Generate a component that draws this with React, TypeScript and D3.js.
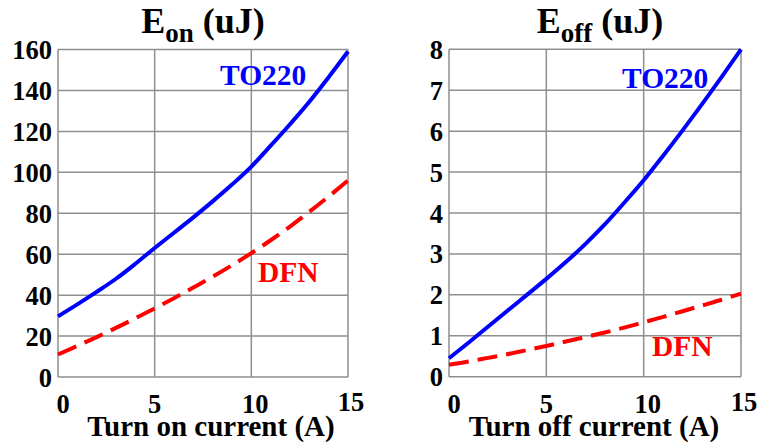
import React from "react";
import * as d3 from "d3";

const currents = [0, 1, 2, 3, 4, 5, 6, 7, 8, 9, 10, 11, 12, 13, 14, 15];
const eonTO220 = [29.6, 35.5, 41.6, 48, 55.3, 63, 70.5, 78, 85.8, 94, 102.8, 113, 123.5, 134.5, 146.5, 159];
const eonDFN = [11, 15.2, 19.5, 24, 28.7, 33.5, 38.5, 43.7, 49, 54.6, 60.5, 66.8, 73.5, 80.7, 88.2, 96];
const eoffTO220 = [0.45, 0.83, 1.22, 1.61, 2.0, 2.39, 2.8, 3.24, 3.72, 4.25, 4.8, 5.4, 6.02, 6.66, 7.32, 8.0];
const eoffDFN = [0.29, 0.37, 0.46, 0.55, 0.65, 0.75, 0.86, 0.97, 1.08, 1.2, 1.33, 1.46, 1.6, 1.74, 1.88, 2.03];
const xTicks = [0, 5, 10, 15];
const eonTicks = [0, 20, 40, 60, 80, 100, 120, 140, 160];
const eoffTicks = [0, 1, 2, 3, 4, 5, 6, 7, 8];

const FONT = "'Liberation Serif', 'Times New Roman', serif";

type PanelProps = {
  x0: number; x1: number; y0: number; y1: number;
  yMax: number; yTicks: number[];
  blue: number[]; red: number[];
  sub: string; xLabel: string;
  titleX: number; xLabelX: number;
  toPos: [number, number]; dfnPos: [number, number];
};

function Panel(p: PanelProps) {
  const x = d3.scaleLinear().domain([0, 15]).range([p.x0, p.x1]);
  const y = d3.scaleLinear().domain([0, p.yMax]).range([p.y0, p.y1]);
  const line = d3.line<[number, number]>().x(d => x(d[0])).y(d => y(d[1])).curve(d3.curveMonotoneX);
  const bluePts = currents.map((c, i) => [c, p.blue[i]] as [number, number]);
  const redPts = currents.map((c, i) => [c, p.red[i]] as [number, number]);
  const xOff: Record<number, number> = { 0: 5, 5: 0, 10: 4, 15: 3 };
  return (
    <g fontFamily={FONT} fontWeight="bold">
      {p.yTicks.map(t => (
        <line key={"h" + t} x1={p.x0} x2={p.x1} y1={y(t)} y2={y(t)} stroke="#8e8e8e" strokeWidth={1.5} />
      ))}
      {xTicks.map(t => (
        <line key={"v" + t} x1={x(t)} x2={x(t)} y1={p.y0} y2={p.y1} stroke="#8e8e8e" strokeWidth={1.5} />
      ))}
      {p.yTicks.map(t => (
        <text key={"yl" + t} x={p.x0 - 6} y={y(t)} dy="0.36em" textAnchor="end" fontSize={26.5} fill="#000">{t}</text>
      ))}
      {xTicks.map(t => (
        <text key={"xl" + t} x={x(t) + xOff[t]} y={t === 15 ? 411 : 413} textAnchor="middle" fontSize={26.5} fill="#000">{t}</text>
      ))}
      <path d={line(redPts) || ""} fill="none" stroke="#ff0000" strokeWidth={4} strokeDasharray="20,9" />
      <path d={line(bluePts) || ""} fill="none" stroke="#0000ff" strokeWidth={4} />
      <text x={p.toPos[0]} y={p.toPos[1]} fontSize={29.5} fill="#0000ff">TO220</text>
      <text x={p.dfnPos[0]} y={p.dfnPos[1]} fontSize={29.5} fill="#ff0000">DFN</text>
      <text x={p.titleX} y={33} textAnchor="middle" fontSize={36} fill="#000">
        E<tspan fontSize={27} dy={9}>{p.sub}</tspan><tspan dy={-9}> (uJ)</tspan>
      </text>
      <text x={p.xLabelX} y={436} textAnchor="middle" fontSize={29} fill="#000">{p.xLabel}</text>
    </g>
  );
}

export default function App() {
  return (
    <svg width={757} height={444} style={{ display: "block", position: "absolute", left: 0, top: 0, background: "#fff" }}>
      <rect width={757} height={444} fill="#fff" />
      <Panel x0={58} x1={348} y0={377} y1={49.5} yMax={160} yTicks={eonTicks}
        blue={eonTO220} red={eonDFN} sub="on" xLabel="Turn on current (A)"
        titleX={203} xLabelX={211} toPos={[220, 85]} dfnPos={[258, 282]} />
      <Panel x0={449} x1={741} y0={376.7} y1={49.3} yMax={8} yTicks={eoffTicks}
        blue={eoffTO220} red={eoffDFN} sub="off" xLabel="Turn off current (A)"
        titleX={600} xLabelX={594} toPos={[622, 88]} dfnPos={[652, 356]} />
    </svg>
  );
}
